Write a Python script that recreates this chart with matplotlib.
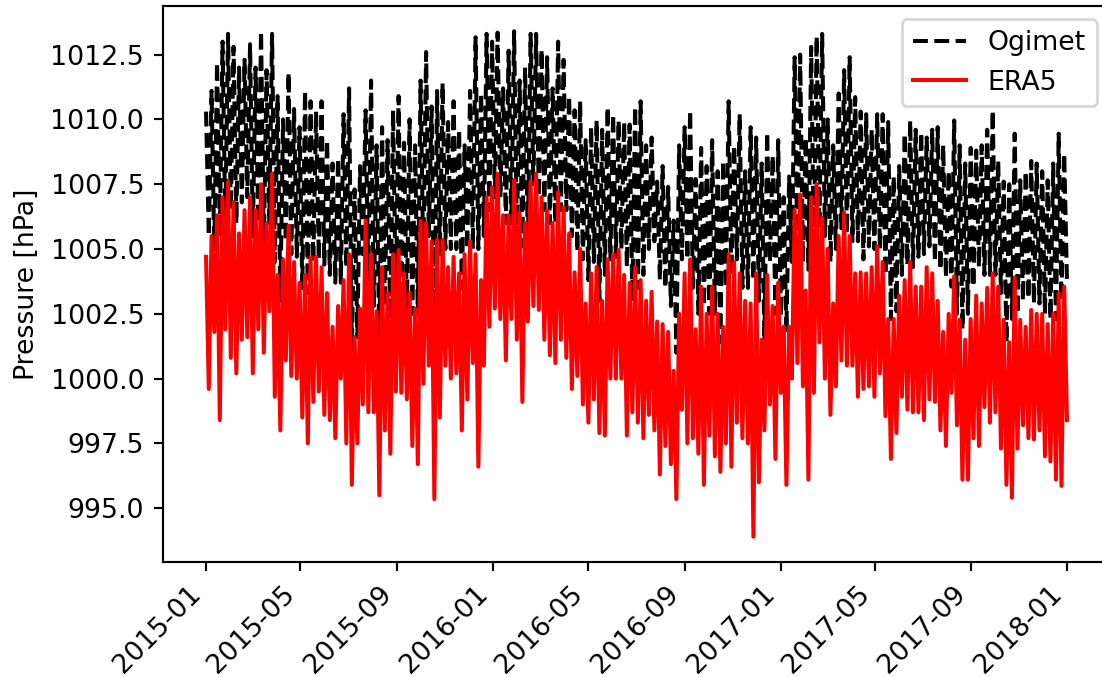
import matplotlib
matplotlib.use("Agg")
import matplotlib.pyplot as plt
import matplotlib.dates as mdates
import pandas as pd

# Half-weekly samples (alternating local highs / lows),
# 2015-01-01 00:00 .. 2017-12-31 12:00, every 84 hours.
ogimet = [
    1010.3, 1005.5, 1011.1, 1005.0, 1012.2, 1005.5, 1013.0, 1006.0, 1013.3, 1006.5,
    1012.8, 1006.0, 1012.0, 1006.8, 1012.3, 1007.0, 1012.9, 1005.5, 1012.0, 1006.0,
    1013.4, 1005.0, 1011.9, 1006.0, 1013.3, 1004.5, 1010.9, 1003.0, 1010.0, 1005.3,
    1011.8, 1004.8, 1010.4, 1004.7, 1009.7, 1003.5, 1011.1, 1003.3,
    1010.7, 1004.5, 1010.3, 1004.6, 1010.7, 1004.4, 1009.2, 1004.0, 1008.3, 1003.7,
    1008.5, 1003.7, 1010.2, 1004.3, 1011.2, 1001.0, 1007.3, 1001.6, 1008.2, 1004.8,
    1010.35, 1003.8, 1011.5, 1002.8, 1009.0, 1001.2, 1009.7, 1002.8, 1009.2, 1001.9,
    1010.35, 1003.0, 1010.9, 1003.0, 1009.1, 1002.6, 1010.0, 1002.5, 1009.0, 1002.5,
    1011.5, 1004.5, 1012.6, 1005.5, 1010.5, 1001.0, 1011.1, 1004.8, 1011.4, 1005.0,
    1009.9, 1005.0, 1010.7, 1005.0, 1009.6, 1003.5, 1009.0, 1005.0, 1011.1, 1005.0,
    1013.17, 1005.0, 1011.0, 1005.5, 1013.3, 1006.5, 1013.0, 1007.0, 1013.35, 1007.0,
    1011.2, 1006.0, 1012.65, 1006.0, 1013.4, 1005.5, 1011.5, 1005.1, 1012.0, 1005.1,
    1013.3, 1007.5, 1013.3, 1007.0, 1012.7, 1006.5, 1012.4, 1006.0, 1011.2, 1006.0,
    1013.0, 1006.5, 1012.3, 1006.5, 1010.9, 1005.5, 1010.35, 1004.9, 1010.7, 1004.6,
    1009.2, 1003.8, 1009.7, 1004.5, 1009.96, 1003.0, 1009.6, 1004.0, 1010.47, 1004.6,
    1010.2, 1004.7, 1009.96, 1005.0, 1009.9, 1004.3, 1009.8, 1003.0, 1010.5, 1003.5,
    1010.7, 1004.0, 1009.0, 1005.0, 1009.3, 1005.3, 1007.6, 1003.8, 1008.2, 1003.5,
    1007.4, 1002.8, 1006.1, 1001.0, 1009.0, 1004.6, 1009.7, 1004.6, 1010.35, 1003.5,
    1007.7, 1002.5, 1008.9, 1002.8, 1008.2, 1002.5, 1009.2, 1002.5, 1008.0, 1001.4,
    1008.4, 1003.5, 1010.7, 1004.0, 1009.0, 1004.6, 1010.2, 1003.5, 1008.0, 1003.5,
    1009.7, 1003.8, 1009.3, 1003.0, 1008.3, 1001.4, 1009.5, 1004.5, 1008.6, 1002.5,
    1009.2, 1002.4, 1007.0, 1001.8, 1007.8, 1004.5, 1012.4, 1004.8, 1012.5, 1004.5,
    1009.3, 1004.2, 1012.8, 1005.0, 1013.2, 1005.8, 1013.3, 1005.5, 1010.0, 1004.5,
    1009.0, 1005.0, 1011.0, 1005.8, 1011.9, 1005.6, 1012.4, 1005.3, 1010.86, 1005.3,
    1010.3, 1004.6, 1010.2, 1005.1, 1009.6, 1005.0, 1010.2, 1005.0, 1010.2, 1004.0,
    1009.9, 1002.3, 1007.8, 1002.6, 1008.2, 1004.0, 1009.45, 1004.4, 1009.96, 1004.3,
    1009.6, 1004.7, 1009.5, 1004.8, 1009.3, 1005.1, 1009.6, 1004.5, 1009.7, 1004.2,
    1009.0, 1003.9, 1008.0, 1003.55, 1009.96, 1002.5, 1009.0, 1001.9, 1008.3, 1002.5,
    1008.9, 1003.55, 1008.8, 1004.3, 1009.0, 1004.0, 1009.6, 1004.0, 1010.35, 1004.0,
    1008.4, 1003.3, 1007.6, 1001.4, 1007.5, 1002.3, 1009.45, 1002.5, 1007.65, 1003.0,
    1008.0, 1003.1, 1008.4, 1002.9, 1008.3, 1002.9, 1008.0, 1002.5, 1007.65, 1002.3,
    1008.3, 1002.3, 1009.45, 1003.0, 1008.68, 1003.8,
]

era5 = [
    1004.7, 999.6, 1005.5, 1001.8, 1006.3, 998.4, 1007.0, 1001.9, 1007.6, 1000.8,
    1006.8, 1000.2, 1005.6, 1001.5, 1006.5, 1001.6, 1007.0, 1000.2, 1006.5, 1001.9,
    1007.5, 1001.0, 1006.0, 1002.6, 1007.9, 999.3, 1004.0, 998.0, 1004.6, 1000.7,
    1005.9, 1000.1, 1004.5, 1000.0, 1003.7, 998.5, 1004.0, 997.5,
    1004.7, 999.1, 1004.7, 999.5, 1004.3, 998.6, 1003.3, 998.4, 1002.0, 997.7,
    1002.8, 1000.0, 1003.8, 997.5, 1004.8, 995.9, 1001.6, 997.5, 1002.7, 999.0,
    1006.1, 998.7, 1004.8, 998.7, 1002.6, 995.5, 1004.3, 998.0, 1003.3, 997.1,
    1004.8, 999.5, 1004.96, 999.45, 1004.06, 999.2, 1003.3, 997.4, 1002.7, 996.7,
    1006.1, 999.8, 1006.0, 1000.5, 1005.3, 995.35, 1005.35, 998.5, 1005.35, 1000.5,
    1004.3, 1000.0, 1004.7, 1000.2, 1004.06, 998.0, 1004.8, 999.2, 1005.3, 1000.6,
    1004.8, 996.6, 1003.8, 1000.5, 1007.0, 1002.0, 1007.4, 1002.7, 1007.9, 1002.3,
    1006.3, 1000.7, 1006.3, 1002.3, 1007.65, 1001.5, 1006.4, 999.1, 1006.0, 1002.2,
    1007.6, 1002.8, 1007.9, 1002.65, 1007.0, 1001.5, 1006.5, 1000.9, 1006.0, 1000.6,
    1007.2, 1001.5, 1006.6, 1000.8, 1005.6, 999.6, 1004.1, 1000.1, 1005.0, 999.0,
    1002.9, 998.3, 1004.06, 999.2, 1004.3, 997.9, 1003.0, 997.8, 1004.6, 1000.0,
    1004.8, 1000.0, 1004.96, 1000.0, 1004.0, 997.8, 1003.7, 998.7, 1004.3, 998.3,
    1003.8, 997.7, 1003.0, 998.6, 1003.35, 998.0, 1002.2, 996.3, 1002.1, 997.4,
    1001.8, 996.7, 1000.3, 995.35, 1002.5, 998.8, 1004.06, 997.5, 1004.6, 997.7,
    1001.9, 997.1, 1003.55, 995.9, 1002.5, 997.8, 1003.55, 997.0, 1002.5, 996.4,
    1002.0, 997.5, 1004.8, 996.6, 1004.5, 998.3, 1004.06, 997.7, 1003.0, 997.5,
    1002.9, 993.9, 1004.06, 996.0, 1001.5, 998.0, 1004.0, 999.0, 1002.8, 996.9,
    1003.7, 999.45, 1002.0, 995.9, 1002.0, 1000.0, 1006.5, 1000.6, 1007.1, 999.7,
    1003.4, 996.1, 1007.0, 999.45, 1007.5, 1001.4, 1006.2, 1000.0, 1005.0, 998.6,
    1002.9, 999.7, 1005.5, 1000.7, 1006.4, 1000.5, 1005.5, 1000.5, 1004.06, 999.3,
    1004.1, 999.6, 1004.06, 999.7, 1004.3, 999.3, 1005.1, 1000.2, 1004.5, 998.55,
    1002.3, 996.9, 1002.3, 997.9, 1003.2, 999.3, 1003.8, 998.8, 1004.5, 998.7,
    1003.55, 998.7, 1003.55, 998.4, 1004.3, 999.2, 1004.06, 999.1, 1003.0, 998.0,
    1001.8, 997.4, 1002.5, 999.45, 1003.95, 998.2, 1002.27, 996.1, 1001.5, 996.1,
    1002.3, 997.7, 1003.2, 997.4, 1002.9, 998.9, 1003.5, 998.3, 1004.06, 998.7,
    1003.55, 997.3, 1002.27, 995.9, 1001.4, 995.4, 1003.9, 997.3, 1002.27, 998.2,
    1002.0, 997.7, 1002.65, 997.65, 1002.5, 998.0, 1002.5, 997.0, 1002.1, 996.8,
    1002.5, 996.1, 1003.3, 995.86, 1003.55, 998.4,
]

dates = pd.date_range("2015-01-01", periods=len(ogimet), freq="84h")

W, H, DPI = 1102, 677, 193
fig = plt.figure(figsize=(W / DPI, H / DPI), dpi=DPI)
ax = fig.add_axes([163 / W, (H - 562) / H, (1110 - 163) / W, (562 - 6) / H])

ax.plot(dates, ogimet, color="black", linestyle="--", label="Ogimet")
ax.plot(dates, era5, color="red", linestyle="-", label="ERA5")

ax.set_ylabel("Pressure [hPa]")
ax.xaxis.set_major_locator(mdates.MonthLocator(bymonth=[1, 5, 9]))
ax.xaxis.set_major_formatter(mdates.DateFormatter("%Y-%m"))
for lab in ax.get_xticklabels():
    lab.set_rotation(45)
    lab.set_ha("right")

ax.legend(loc="upper right")

fig.savefig("out.png", dpi=DPI)
